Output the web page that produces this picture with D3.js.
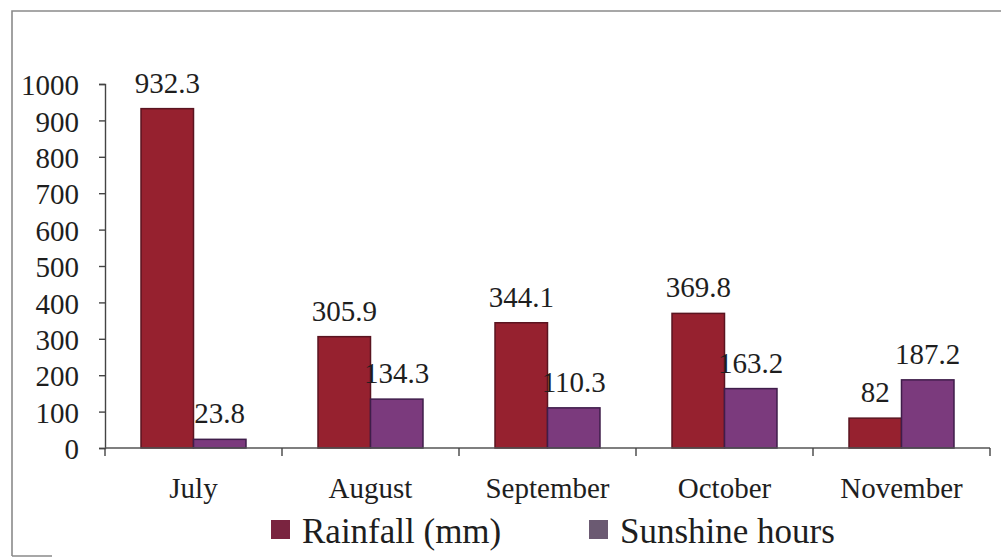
<!DOCTYPE html>
<html>
<head>
<meta charset="utf-8">
<script src="https://cdn.jsdelivr.net/npm/d3@7"></script>
<style>
  html, body { margin: 0; padding: 0; background: #ffffff; }
  svg { display: block; }
  svg text { font-family: "Liberation Serif", "DejaVu Serif", serif; fill: #1e1e1e; }
</style>
</head>
<body>
<svg id="chart" width="1001" height="557"></svg>
<script>
// Monthly rainfall and sunshine hours
const months = ["July", "August", "September", "October", "November"];
const rainfall = [932.3, 305.9, 344.1, 369.8, 82];
const sunshine = [23.8, 134.3, 110.3, 163.2, 187.2];
const seriesNames = ["Rainfall (mm)", "Sunshine hours"];
const yTicks = [0, 100, 200, 300, 400, 500, 600, 700, 800, 900, 1000];

const seriesFill = ["#96212f", "#7b3a7d"];
const seriesStroke = ["#5a1420", "#3f1d4a"];
const legendFill = ["#7a2440", "#6b5a72"];
const serif = "'Liberation Serif', 'DejaVu Serif', serif";

const svg = d3.select("#chart");

// Outer frame (top and left edges)
svg.append("path")
  .attr("d", "M12,556 V11 H1001")
  .attr("fill", "none")
  .attr("stroke", "#8a8a8a")
  .attr("stroke-width", 1.6);
svg.append("line")
  .attr("x1", 12).attr("x2", 52).attr("y1", 556).attr("y2", 556)
  .attr("stroke", "#8a8a8a").attr("stroke-width", 1.6);

const x = d3.scaleBand().domain(months).range([105, 990]).padding(0);
const xInner = d3.scaleBand().domain([0, 1]).range([0, x.bandwidth()])
  .paddingInner(0).paddingOuter(0.686);
const y = d3.scaleLinear().domain([0, 1000]).range([448, 84]);

// Y axis
const yAxis = svg.append("g")
  .attr("transform", "translate(105,0)")
  .call(d3.axisLeft(y).tickValues(yTicks).tickSize(6).tickSizeOuter(6).tickPadding(20).tickFormat(d3.format("d")));
yAxis.attr("font-family", serif);
yAxis.selectAll("path, line").attr("stroke", "#444").attr("stroke-width", 1.4);
yAxis.selectAll("text")
  .attr("font-size", 29)
  .style("font-family", serif)
  .attr("fill", "#1e1e1e")
  .attr("dy", "0.37em");

// Bars
const data = months.map((m, i) => ({ month: m, values: [rainfall[i], sunshine[i]] }));
const groups = svg.append("g").selectAll("g")
  .data(data).join("g")
  .attr("transform", d => `translate(${x(d.month)},0)`);

groups.selectAll("rect")
  .data(d => d.values.map((v, s) => ({ v, s })))
  .join("rect")
  .attr("x", d => xInner(d.s))
  .attr("y", d => y(d.v))
  .attr("width", xInner.bandwidth())
  .attr("height", d => y(0) - y(d.v))
  .attr("fill", d => seriesFill[d.s])
  .attr("stroke", d => seriesStroke[d.s])
  .attr("stroke-width", 1.5);

// Value labels
groups.selectAll("text.val")
  .data(d => d.values.map((v, s) => ({ v, s })))
  .join("text")
  .attr("class", "val")
  .attr("x", d => xInner(d.s) + xInner.bandwidth() / 2)
  .attr("y", d => y(d.v) - 16)
  .attr("text-anchor", "middle")
  .attr("font-size", 29)
  .style("font-family", serif)
  .text(d => String(d.v));

// X axis line with ticks at category boundaries
const edges = months.map(m => x(m)).concat([x(months[months.length - 1]) + x.bandwidth()]);
svg.append("line")
  .attr("x1", x.range()[0]).attr("x2", x.range()[1])
  .attr("y1", y(0)).attr("y2", y(0))
  .attr("stroke", "#555").attr("stroke-width", 1.4);
svg.append("g").selectAll("line")
  .data(edges).join("line")
  .attr("x1", d => d).attr("x2", d => d)
  .attr("y1", y(0)).attr("y2", y(0) + 8)
  .attr("stroke", "#444").attr("stroke-width", 1.4);

// Category labels
svg.append("g").selectAll("text")
  .data(months).join("text")
  .attr("x", d => x(d) + x.bandwidth() / 2)
  .attr("y", 498)
  .attr("text-anchor", "middle")
  .attr("font-size", 29)
  .style("font-family", serif)
  .text(d => d);

// Legend
const legendX = [271, 589];
const legend = svg.append("g").selectAll("g")
  .data(seriesNames).join("g")
  .attr("transform", (d, i) => `translate(${legendX[i]},0)`);
legend.append("rect")
  .attr("x", 0).attr("y", 520).attr("width", 19).attr("height", 19)
  .attr("fill", (d, i) => legendFill[i]);
legend.append("text")
  .attr("x", 31).attr("y", 543)
  .attr("font-size", 35)
  .style("font-family", serif)
  .text(d => d);
</script>
</body>
</html>
